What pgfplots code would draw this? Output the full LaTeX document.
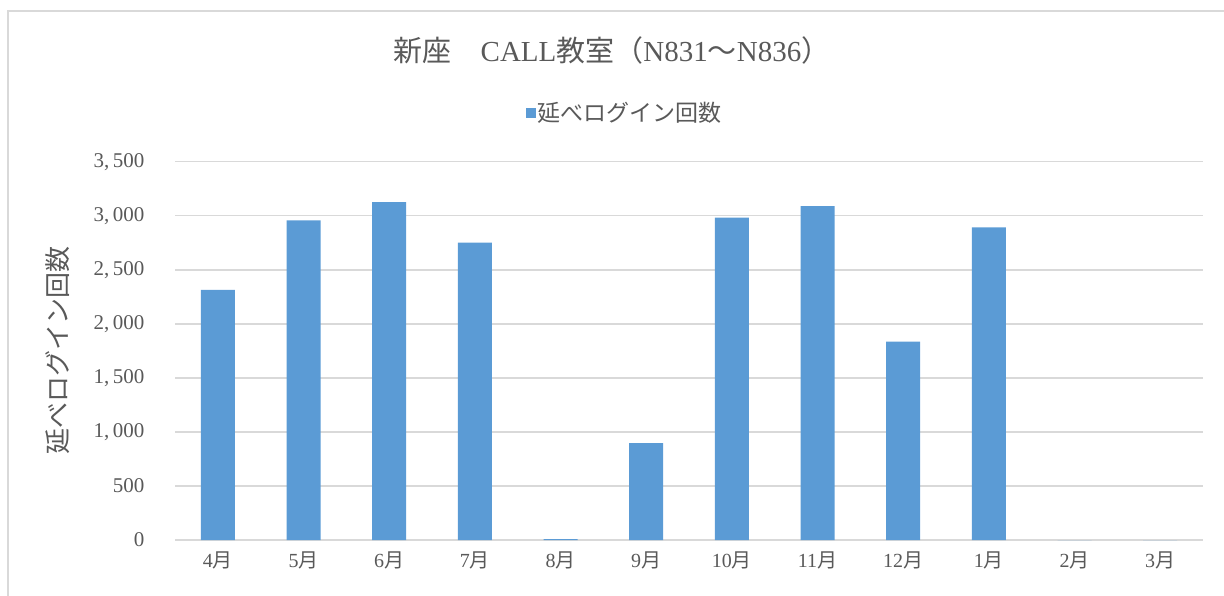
\documentclass[border=0pt]{standalone}
\usepackage{pgfplots}
\pgfplotsset{compat=1.18}
\usepackage{fontspec}
\setmainfont{Liberation Serif}
\newfontfamily\jp{Noto Sans CJK JP}
\definecolor{barblue}{HTML}{5B9BD5}
\definecolor{gridgray}{HTML}{D9D9D9}
\definecolor{txtgray}{HTML}{595959}
\newcommand\m[1]{#1{\jp 月}}
\begin{document}
\begin{tikzpicture}
\useasboundingbox (0pt,0pt) rectangle (1224pt,595pt);
\draw[gridgray, line width=1.5pt] (8pt,-10pt) -- (8pt,584pt) -- (1240pt,584pt);
\node[font=\fontsize{29}{33}\selectfont, text=txtgray] at (612pt,545pt)
  {{\jp 新座　}CALL{\jp 教室（}N831{\jp ～}N836{\jp ）}};
\begin{axis}[
  at={(175pt,55pt)}, anchor=south west,
  scale only axis, width=1028pt, height=378.3pt,
  ybar, bar width=34pt,
  xmin=-0.5, xmax=11.5, ymin=0, ymax=3500,
  xtick=data,
  xticklabels={\m{4},\m{5},\m{6},\m{7},\m{8},\m{9},\m{10},\m{11},\m{12},\m{1},\m{2},\m{3}},
  ytick={0,500,...,3500},
  ymajorgrids, grid style={gridgray, line width=1.5pt},
  axis x line*=bottom, axis y line*=left,
  x axis line style={gridgray, line width=1.5pt, -},
  y axis line style={draw=none},
  major tick length=0pt,
  tick label style={text=txtgray, font=\fontsize{20}{24}\selectfont},
  /pgf/number format/assume math mode=true,
  yticklabel style={/pgf/number format/1000 sep={,\,}, xshift=-27pt, font=\fontsize{21}{24}\selectfont},
  xticklabel style={yshift=-8pt},
  ylabel={\jp 延べログイン回数},
  ylabel style={at={(axis description cs:-0.114,0.5)}, anchor=center, text=txtgray, font=\fontsize{26}{30}\selectfont},
  legend style={at={(axis description cs:0.4377,1.129)}, anchor=center, draw=none, fill=none,
    font=\fontsize{23}{28}\selectfont, text=txtgray},
  legend image code/.code={\fill[barblue] (0pt,-5pt) rectangle (10pt,5pt);},
]
\addplot[fill=barblue, draw=none] coordinates {
  (0,2313) (1,2958) (2,3127) (3,2751) (4,8) (5,897)
  (6,2982) (7,3090) (8,1835) (9,2893) (10,0) (11,0)
};
\addlegendentry{\jp 延べログイン回数}
\end{axis}
\end{tikzpicture}
\end{document}
